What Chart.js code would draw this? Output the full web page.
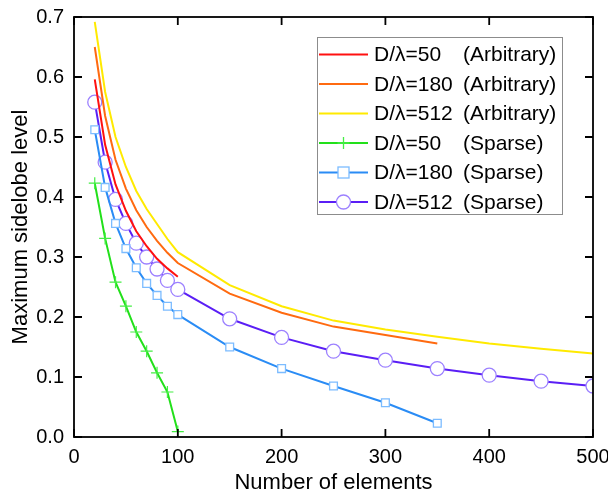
<!DOCTYPE html>
<html>
<head>
<meta charset="utf-8">
<script src="https://cdn.jsdelivr.net/npm/chart.js@4.4.1/dist/chart.umd.min.js"></script>
<style>
html,body{margin:0;padding:0;background:#fff;}
#wrap{width:608px;height:496px;position:relative;}
</style>
</head>
<body>
<div id="wrap"><canvas id="c" width="608" height="496"></canvas></div>
<script>
// ---- data ----
const nSmall = [20, 30, 40, 50, 60, 70, 80, 90, 100];
const nArb180 = [20, 30, 40, 50, 60, 70, 80, 90, 100, 150, 200, 250, 300, 350];
const nArb512 = [20, 30, 40, 50, 60, 70, 80, 90, 100, 150, 200, 250, 300, 350, 400, 450, 500];
const nSparse180 = [20, 30, 40, 50, 60, 70, 80, 90, 100, 150, 200, 250, 300, 350];
const nSparse512 = [20, 30, 40, 50, 60, 70, 80, 90, 100, 150, 200, 250, 300, 350, 400, 450, 500];

const arb50 = [0.596, 0.487, 0.421, 0.377, 0.343, 0.318, 0.297, 0.281, 0.267];
const arb180 = [0.650, 0.535, 0.462, 0.414, 0.378, 0.350, 0.327, 0.307, 0.290, 0.239, 0.207, 0.184, 0.170, 0.156];
const arb512 = [0.692, 0.575, 0.500, 0.450, 0.410, 0.380, 0.355, 0.330, 0.308, 0.253, 0.218, 0.194, 0.179, 0.167, 0.156, 0.147, 0.139];
const sparse50 = [0.423, 0.331, 0.258, 0.218, 0.175, 0.143, 0.107, 0.075, 0.009];
const sparse180 = [0.512, 0.416, 0.356, 0.314, 0.282, 0.256, 0.236, 0.218, 0.204, 0.150, 0.114, 0.085, 0.057, 0.023];
const sparse512 = [0.558, 0.458, 0.396, 0.356, 0.323, 0.300, 0.280, 0.261, 0.246, 0.197, 0.166, 0.143, 0.128, 0.114, 0.103, 0.093, 0.085];

const labels = [
  "D/\u03bb=50 (Arbitrary)",
  "D/\u03bb=180 (Arbitrary)",
  "D/\u03bb=512 (Arbitrary)",
  "D/\u03bb=50 (Sparse)",
  "D/\u03bb=180 (Sparse)",
  "D/\u03bb=512 (Sparse)"
];
const xTicks = [0, 100, 200, 300, 400, 500];
const yTicks = [0.0, 0.1, 0.2, 0.3, 0.4, 0.5, 0.6, 0.7];

const pts = (xs, ys) => xs.map((x, i) => ({x: x, y: ys[i]}));

const FONT = "'Liberation Sans', Arial, sans-serif";

const frameAndLegend = {
  id: 'frameAndLegend',
  afterDatasetsDraw(chart) {
    const ctx = chart.ctx;
    const a = chart.chartArea;
    const xs = chart.scales.x, ys = chart.scales.y;
    ctx.save();
    // frame
    ctx.strokeStyle = '#000';
    ctx.lineWidth = 1.8;
    ctx.strokeRect(a.left, a.top, a.right - a.left, a.bottom - a.top);
    // inward ticks on all four sides
    const tl = 8;
    ctx.beginPath();
    xTicks.forEach(v => {
      const px = xs.getPixelForValue(v);
      ctx.moveTo(px, a.bottom); ctx.lineTo(px, a.bottom - tl);
      ctx.moveTo(px, a.top); ctx.lineTo(px, a.top + tl);
    });
    yTicks.forEach(v => {
      const py = ys.getPixelForValue(v);
      ctx.moveTo(a.left, py); ctx.lineTo(a.left + tl, py);
      ctx.moveTo(a.right, py); ctx.lineTo(a.right - tl, py);
    });
    ctx.stroke();

    // legend box inside plot
    const bx = 317, by = 37, bw = 245, bh = 177;
    ctx.fillStyle = '#fff';
    ctx.fillRect(bx, by, bw, bh);
    ctx.strokeStyle = '#8c8c8c';
    ctx.lineWidth = 1;
    ctx.strokeRect(bx + 0.5, by + 0.5, bw, bh);
    ctx.font = '21px ' + FONT;
    ctx.textBaseline = 'middle';
    ctx.fillStyle = '#000';
    chart.data.datasets.forEach((ds, i) => {
      const yy = 54.5 + i * 29.5;
      ctx.strokeStyle = ds.borderColor;
      ctx.lineWidth = 2;
      ctx.beginPath();
      ctx.moveTo(319, yy); ctx.lineTo(368, yy);
      ctx.stroke();
      if (ds.pointRadius > 0) {
        ctx.lineWidth = 1.3;
        ctx.strokeStyle = ds.pointBorderColor;
        ctx.fillStyle = ds.pointBackgroundColor;
        const cx = 343.5, r = ds.pointRadius;
        if (ds.pointStyle === 'rect') {
          ctx.fillRect(cx - r, yy - r, 2 * r, 2 * r);
          ctx.strokeRect(cx - r, yy - r, 2 * r, 2 * r);
        } else if (ds.pointStyle === 'circle') {
          ctx.beginPath(); ctx.arc(cx, yy, r, 0, Math.PI * 2); ctx.fill(); ctx.stroke();
        } else if (ds.pointStyle === 'cross') {
          ctx.beginPath();
          ctx.moveTo(cx, yy - r); ctx.lineTo(cx, yy + r);
          ctx.moveTo(cx - r, yy); ctx.lineTo(cx + r, yy);
          ctx.stroke();
        }
      }
      ctx.fillStyle = '#000';
      const k = ds.label.indexOf(' (');
      ctx.textAlign = 'left';
      ctx.fillText(ds.label.slice(0, k), 374, yy + 1);
      ctx.fillText(ds.label.slice(k + 1), 463, yy + 1);
    });
    ctx.restore();
  }
};

const mk = (label, data, color, extra) => Object.assign({
  label: label, data: data, borderColor: color, backgroundColor: color,
  borderWidth: 2, pointRadius: 0, tension: 0, fill: false
}, extra || {});

new Chart(document.getElementById('c'), {
  type: 'line',
  data: {
    datasets: [
      mk(labels[0], pts(nSmall, arb50), '#ff1010'),
      mk(labels[1], pts(nArb180, arb180), '#ff6a10'),
      mk(labels[2], pts(nArb512, arb512), '#ffea00'),
      mk(labels[3], pts(nSmall, sparse50), '#22e01a', {pointStyle: 'cross', pointRadius: 6, pointBorderColor: '#44ee44', pointBackgroundColor: '#44ee44', pointBorderWidth: 1.2}),
      mk(labels[4], pts(nSparse180, sparse180), '#2a8cf5', {pointStyle: 'rect', pointRadius: 5.5, pointBorderColor: '#7cbcff', pointBackgroundColor: '#ffffff', pointBorderWidth: 1.3}),
      mk(labels[5], pts(nSparse512, sparse512), '#5a1ef5', {pointStyle: 'circle', pointRadius: 7, pointBorderColor: '#9c80ff', pointBackgroundColor: '#ffffff', pointBorderWidth: 1.3})
    ]
  },
  options: {
    responsive: false,
    animation: false,
    layout: {padding: {left: 0, top: 17, right: 15, bottom: 0}},
    plugins: {legend: {display: false}, tooltip: {enabled: false}},
    scales: {
      x: {
        type: 'linear', min: 0, max: 500,
        afterFit: s => { s.height = 59; s.paddingLeft = 0; s.paddingRight = 0; },
        afterBuildTicks: s => { s.ticks = xTicks.map(v => ({value: v})); },
        grid: {display: false, drawTicks: false}, border: {display: false},
        ticks: {color: '#000', font: {family: FONT, size: 20}, padding: 8, maxRotation: 0},
        title: {display: true, text: 'Number of elements', color: '#000', font: {family: FONT, size: 22}, padding: {top: 4, bottom: 0}}
      },
      y: {
        type: 'linear', min: 0, max: 0.7,
        afterFit: s => { s.width = 74; s.paddingTop = 0; s.paddingBottom = 0; },
        afterBuildTicks: s => { s.ticks = yTicks.map(v => ({value: v})); },
        grid: {display: false, drawTicks: false}, border: {display: false},
        ticks: {color: '#000', font: {family: FONT, size: 20}, padding: 10, callback: v => Number(v).toFixed(1)},
        title: {display: true, text: 'Maximum sidelobe level', color: '#000', font: {family: FONT, size: 22}, padding: {top: 8, bottom: 0}}
      }
    }
  },
  plugins: [frameAndLegend]
});
</script>
</body>
</html>
